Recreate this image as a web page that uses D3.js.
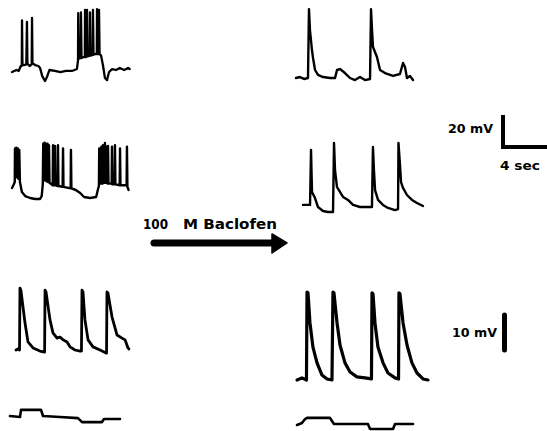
<!DOCTYPE html>
<html><head><meta charset="utf-8">
<script src="https://cdn.jsdelivr.net/npm/d3@7"></script>
<style>html,body{margin:0;padding:0;background:#fff;}svg{display:block;}</style>
</head><body>
<svg id="c" width="547" height="431"></svg>
<script>
// ---- DATA: [time (s), membrane potential (mV)] ----
const controlBursting1 = [[0,-1.3],[0.4,0],[0.6,-0.6],[0.8,2.5],
 [0.89,2.5],[0.91,31],[0.95,3.5],[1.1,3],[1.3,3.5],[1.36,30],[1.4,4],
 [1.6,2.5],[1.79,3.5],[1.82,32.5],[1.86,4.5],
 [2.1,3],[2.4,2.5],[2.55,1.3],[2.75,-3.8],[3.0,-6.9],[3.2,-4],[3.4,0],[3.9,-0.6],[4.4,-1.3],[4.9,-0.6],[5.45,-0.6],[5.9,0.6],
 [6.0,6],[6.02,35.6],[6.07,7],[6.25,7.5],[6.27,36],[6.32,7.5],[6.45,8],[6.62,8],[6.64,37.5],[6.69,8],[6.8,8.5],[6.82,37.5],[6.87,8.5],
 [7.07,9],[7.09,36],[7.14,9],[7.34,9.5],[7.36,37.5],[7.41,9.5],[7.55,10],[7.71,10],[7.73,38],[7.78,10],[7.89,10],[7.91,37.5],[7.96,10],
 [8.1,9],[8.27,3],[8.45,-5],[8.64,-6.3],[8.82,-1.3],[9.1,0.6],[9.45,0],[9.8,1.3],[10.2,0],[10.55,1.3],[10.7,0.6]];

const controlBursting2 = [[0,1.3],[0.18,3.8],
 [0.25,5],[0.27,26],[0.32,8],[0.39,26.5],[0.45,8],[0.53,26],[0.58,7],[0.66,25],[0.72,5],
 [0.9,-1.3],[1.2,-3.8],[1.65,-5],[2.1,-5.6],[2.55,-5.6],[2.7,-3.8],[2.8,3.8],
 [2.84,29],[2.89,6],[2.96,29.5],[3.01,6],[3.09,29],[3.14,5.5],[3.23,29],[3.28,5],[3.36,28],[3.41,4.5],
 [3.7,3],[3.73,28],[3.77,3],[3.88,3],[3.91,27.5],[3.95,3],[4.15,2.5],[4.18,28],[4.22,2.5],[4.6,2],[4.64,26],[4.68,2],
 [5.0,1.5],[5.33,1],[5.36,25],[5.4,1],
 [5.8,0],[6.2,-1.9],[6.55,-4.4],[7.1,-5],[7.65,-4.4],[7.8,0],[7.9,2.5],
 [7.93,26],[7.97,4],[8.1,4],[8.12,27],[8.16,4],[8.24,4],[8.27,28],[8.31,4.5],[8.42,4.5],[8.45,29.4],[8.49,4.5],[8.56,4.5],[8.58,27],[8.62,4.5],
 [8.7,4],[8.73,27.5],[8.77,4],[9.06,4],[9.09,27],[9.13,3.5],[9.33,3.5],[9.36,28],[9.4,3.5],[9.79,3],[9.82,26],[9.86,3],
 [10.42,3],[10.45,27],[10.49,2],[10.6,0]];

const controlPlateau = [[0,0],[0.18,0.3],[0.32,0],[0.36,17.7],[0.45,17],[0.82,7.7],[1.09,2.3],[1.55,0.6],[2.18,-0.3],[2.6,-0.6],
 [2.64,17.1],[2.73,16.6],[3.09,8.6],[3.36,4.9],[3.73,3.4],[4.0,3.7],[4.27,2.9],[4.64,2.3],[4.91,0.9],[5.36,0],[5.82,-0.3],[5.95,-0.3],
 [6.0,17.1],[6.09,16.6],[6.27,8.6],[6.55,2.9],[7.0,0.9],[7.64,0],[8.23,-0.9],
 [8.27,16.6],[8.36,16.3],[8.73,9.4],[9.18,4.3],[9.64,3.4],[9.91,2.9],[10.18,0.6],[10.27,0.3]];

const baclofen1 = [[0,0],[0.36,0.6],[0.73,-0.6],[1.09,0],[1.18,43],[1.27,30],[1.45,17.5],[1.55,12.5],[1.73,5],[2.0,1.9],[2.45,0.6],
 [3.09,0],[3.55,0],[3.73,5],[4.0,5.6],[4.45,3.1],[4.91,0],[5.36,-1.3],[5.82,0.6],[6.27,-1.3],[6.73,-0.6],
 [6.82,43],[6.91,30],[7.0,19.4],[7.36,13.1],[7.64,5],[8.09,3.1],[8.82,1.3],[9.45,2.5],[9.73,9.4],[9.91,6.9],[10.09,0],[10.36,1.3],[10.64,-1.3]];

const baclofen2 = [[0,1.3],[0.64,1.3],[0.73,35.6],[0.77,23],[0.82,9.4],[1.09,5.6],[1.36,0],[1.82,-2.5],[2.27,-3.1],[2.73,-3.1],
 [2.82,40],[2.91,23],[3.09,12.5],[3.36,9.4],[3.64,6.3],[4.09,4.4],[4.55,1.3],[5.18,0],[5.91,0],[6.27,0],
 [6.36,37.5],[6.45,23],[6.55,10.6],[6.82,4.4],[7.27,1.3],[7.73,-0.6],[8.36,-1.9],[8.64,-1.3],
 [8.68,40],[8.82,26],[8.91,15.6],[9.09,11.9],[9.45,7.5],[9.91,4.4],[10.36,2.5],[10.91,0.6]];

const baclofenPlateau = [[0,0],[0.45,0.6],[0.86,0],[0.91,25.1],[1.0,24.9],[1.18,16.3],[1.45,9.4],[1.82,4.9],[2.27,1.4],[2.73,0.3],[3.18,0],
 [3.27,25.1],[3.36,24.9],[3.64,16.3],[3.91,10],[4.36,4.9],[4.82,2.3],[5.45,0.9],[6.18,0.6],[6.77,0.3],
 [6.82,24.9],[6.91,24.6],[7.09,16.3],[7.36,9.4],[7.82,4.9],[8.27,2],[8.91,0.6],[9.23,0.3],
 [9.27,24.9],[9.36,24.6],[9.64,16.3],[10.0,10],[10.45,4.9],[10.91,2],[11.45,0.3],[11.91,0]];

const controlCurrent = [[0,0],[0.91,-0.6],[1.0,3.8],[2.82,3.8],[3.0,0],[4.55,-0.6],[6.18,-1.3],[6.55,-3.8],[8.36,-3.8],[8.55,-1.9],[10.0,-1.9]];
const baclofenCurrent = [[0,-0.6],[0.45,0.6],[0.73,3.1],[0.91,3.8],[3.0,3.8],[3.36,0],[6.45,0],[6.64,-3.1],[8.73,-3.1],[8.91,0],[10.55,0]];

const drugLabel = ["100", "M Baclofen"];
const scaleLabels = ["20 mV", "4 sec", "10 mV"];
const scaleValues = {mvLarge: 20, sec: 4, mvSmall: 10};

// ---- LAYOUT ----
const PX_PER_S = 11, PX_PER_MV_LOW = 1.6, PX_PER_MV_HIGH = 3.5;
const svg = d3.select("#c");

function trace(data, x0, y0, kY, sw) {
  const x = d3.scaleLinear().domain([0, 1]).range([x0, x0 + PX_PER_S]);
  const y = d3.scaleLinear().domain([0, 1]).range([y0, y0 - kY]);
  const line = d3.line().x(d => x(d[0])).y(d => y(d[1]));
  svg.append("path").attr("d", line(data)).attr("fill", "none")
    .attr("stroke", "#000").attr("stroke-width", sw)
    .attr("stroke-linejoin", "round").attr("stroke-linecap", "round");
}

trace(controlBursting1, 12, 70, PX_PER_MV_LOW, 2.3);
trace(controlBursting2, 12, 190, PX_PER_MV_LOW, 2.4);
trace(controlPlateau, 16, 350, PX_PER_MV_HIGH, 2.8);
trace(controlCurrent, 10, 416, PX_PER_MV_LOW, 2.6);
trace(baclofen1, 296, 78, PX_PER_MV_LOW, 2.4);
trace(baclofen2, 303, 207, PX_PER_MV_LOW, 2.4);
trace(baclofenPlateau, 297, 380, PX_PER_MV_HIGH, 3.2);
trace(baclofenCurrent, 297, 424, PX_PER_MV_LOW, 2.6);

// scale bars
const font = "'DejaVu Sans', sans-serif";
const sbX = d3.scaleLinear().domain([0, 1]).range([503, 503 + PX_PER_S]);
const sbYlow = d3.scaleLinear().domain([0, 1]).range([147, 147 - PX_PER_MV_LOW]);
svg.append("path").attr("d", `M${sbX(0)},${sbYlow(scaleValues.mvLarge)}V${sbYlow(0)}H${sbX(scaleValues.sec)}`)
  .attr("fill", "none").attr("stroke", "#000").attr("stroke-width", 4).attr("stroke-linecap", "butt");
const sbYhigh = d3.scaleLinear().domain([0, 1]).range([350, 350 - PX_PER_MV_HIGH]);
svg.append("line").attr("x1", 504.5).attr("x2", 504.5).attr("y1", sbYhigh(scaleValues.mvSmall)).attr("y2", sbYhigh(0))
  .attr("stroke", "#000").attr("stroke-width", 5).attr("stroke-linecap", "round");

function label(t, x, y, w, size) {
  svg.append("text").attr("x", x).attr("y", y).text(t)
    .attr("font-family", font).attr("font-size", size).attr("font-weight", "bold")
    .attr("textLength", w).attr("lengthAdjust", "spacingAndGlyphs").attr("fill", "#000");
}
label(scaleLabels[0], 448, 133, 45, 13);
label(scaleLabels[1], 500, 170, 40, 13);
label(scaleLabels[2], 452, 337, 45, 13);
label(drugLabel[0], 143, 229, 25, 14);
label(drugLabel[1], 183, 229, 94, 14);

// arrow
svg.append("line").attr("x1", 154).attr("x2", 276).attr("y1", 243).attr("y2", 243)
  .attr("stroke", "#000").attr("stroke-width", 7).attr("stroke-linecap", "round");
svg.append("path").attr("d", "M272,234 L287,243 L272,253 Z").attr("fill", "#000")
  .attr("stroke", "#000").attr("stroke-width", 1.5).attr("stroke-linejoin", "round");
</script>
</body></html>
